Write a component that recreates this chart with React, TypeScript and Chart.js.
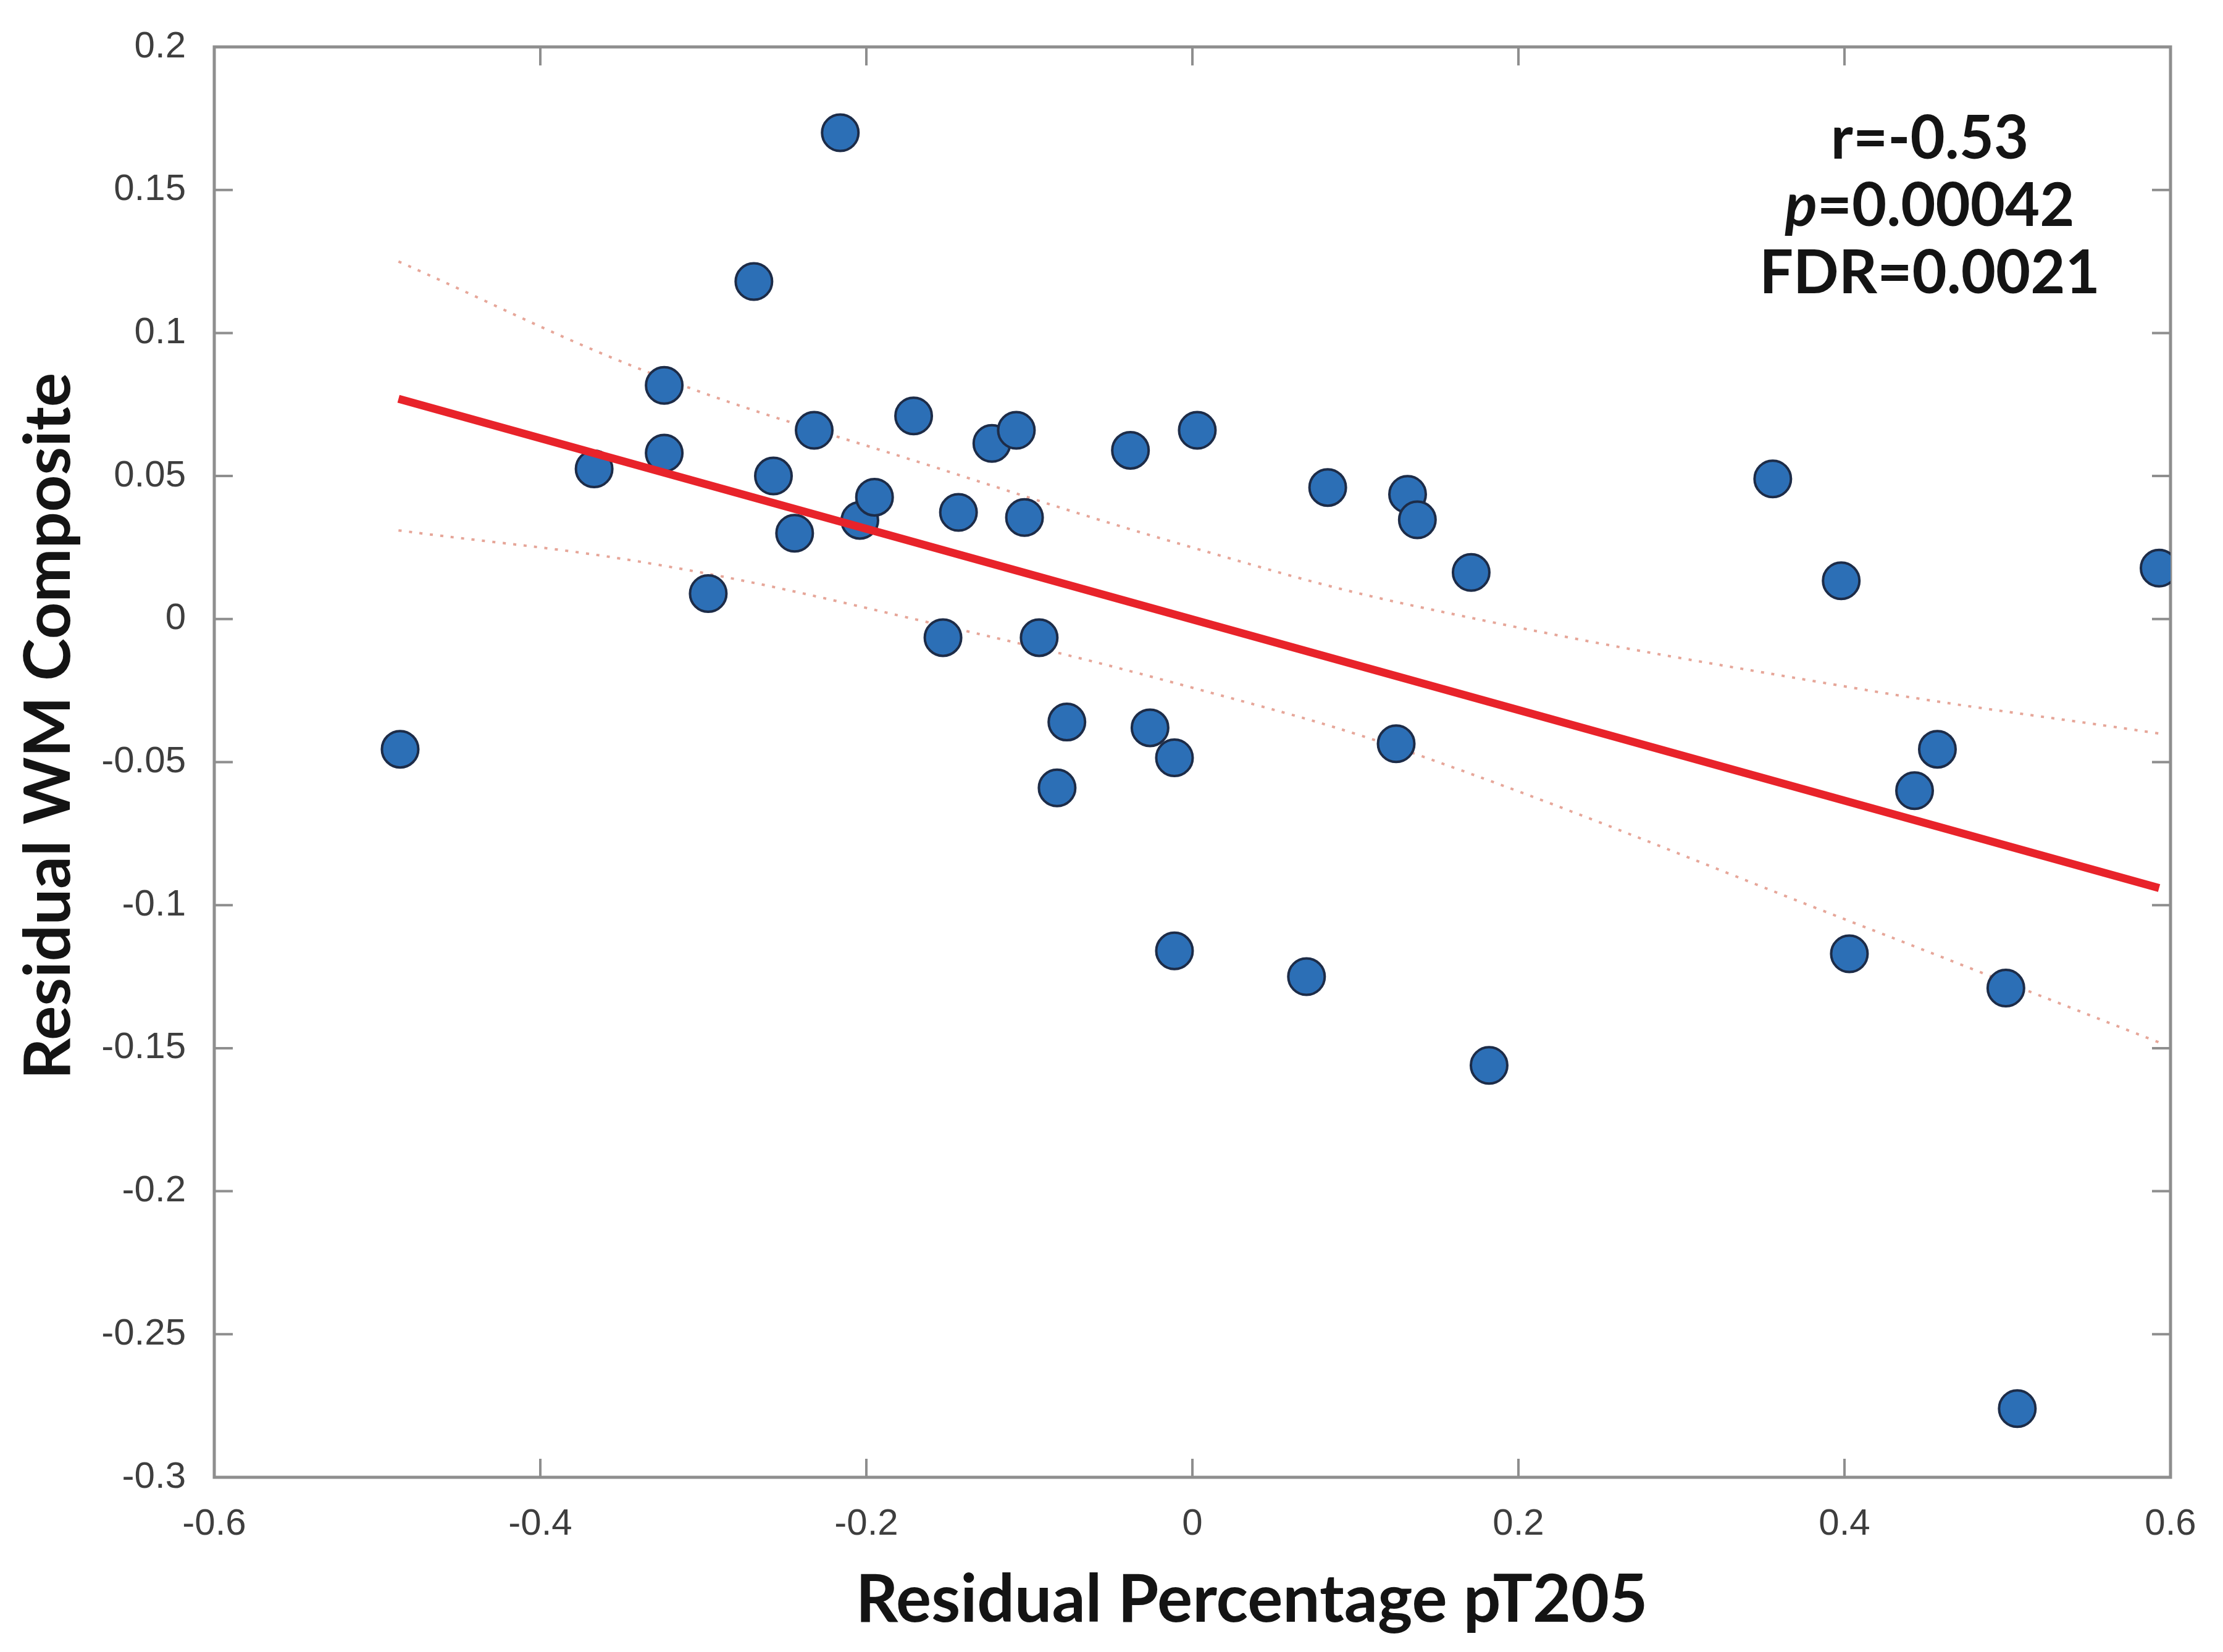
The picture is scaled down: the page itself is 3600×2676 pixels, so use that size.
import React, { useEffect, useRef } from "react";
import { Chart, registerables } from "chart.js";

Chart.register(...registerables);

// ---- Data ----
const pointX = [
  -0.486, -0.367, -0.324, -0.324, -0.297, -0.269, -0.257, -0.232, -0.244, -0.216,
  -0.204, -0.195, -0.171, -0.1435, -0.153, -0.123, -0.108, -0.103, -0.094, -0.077,
  -0.083, -0.038, -0.026, -0.011, -0.011, 0.003, 0.07, 0.083, 0.125, 0.132,
  0.138, 0.171, 0.182, 0.356, 0.398, 0.403, 0.443, 0.457, 0.499, 0.506, 0.593,
];
const pointY = [
  -0.0455, 0.0525, 0.0817, 0.058, 0.0089, 0.118, 0.05, 0.066, 0.03, 0.17,
  0.0345, 0.0426, 0.071, 0.0373, -0.0065, 0.0614, 0.066, 0.0355, -0.0065, -0.036,
  -0.059, 0.059, -0.038, -0.0485, -0.116, 0.066, -0.125, 0.046, -0.0436, 0.0436,
  0.0347, 0.0163, -0.156, 0.049, 0.0134, -0.117, -0.06, -0.0455, -0.129, -0.276, 0.0178,
];

const fitX = [-0.487, 0.593];
const fitY = [0.077, -0.094];

const bandX = [-0.487, -0.328, -0.163, 0.0, 0.141, 0.405, 0.593];
const bandUpper = [0.125, 0.085, 0.054, 0.025, 0.004, -0.024, -0.04];
const bandLower = [0.031, 0.019, -0.001, -0.024, -0.048, -0.106, -0.148];

const xTicks = [-0.6, -0.4, -0.2, 0, 0.2, 0.4, 0.6];
const xTickLabels = ["-0.6", "-0.4", "-0.2", "0", "0.2", "0.4", "0.6"];
const yTicks = [-0.3, -0.25, -0.2, -0.15, -0.1, -0.05, 0, 0.05, 0.1, 0.15, 0.2];
const yTickLabels = ["-0.3", "-0.25", "-0.2", "-0.15", "-0.1", "-0.05", "0", "0.05", "0.1", "0.15", "0.2"];

const xTitle = "Residual Percentage pT205";
const yTitle = "Residual WM Composite";

const statR = "r=-0.53";
const statPItalic = "p";
const statPRest = "=0.00042";
const statFDR = "FDR=0.0021";

// ---- Styles ----
const W = 3600;
const H = 2676;
const FRAME_COLOR = "#8e8e8e";
const TICK_LEN = 30;
const TITLE_FONT = "Lato";
const TITLE_COLOR = "#141414";
const TICK_FONT = "'Liberation Sans', Arial, sans-serif";

const toXY = (xs: number[], ys: number[]) => xs.map((x, i) => ({ x, y: ys[i] }));

const framePlugin = {
  id: "matlabFrame",
  beforeDatasetsDraw(chart: any) {
    const { ctx, chartArea: a, scales } = chart;
    const xs = scales.x;
    const ys = scales.y;
    ctx.save();
    ctx.strokeStyle = FRAME_COLOR;
    ctx.lineWidth = 4;
    ctx.beginPath();
    xTicks.forEach((v) => {
      const px = xs.getPixelForValue(v);
      ctx.moveTo(px, a.bottom);
      ctx.lineTo(px, a.bottom - TICK_LEN);
      ctx.moveTo(px, a.top);
      ctx.lineTo(px, a.top + TICK_LEN);
    });
    yTicks.forEach((v) => {
      const py = ys.getPixelForValue(v);
      ctx.moveTo(a.left, py);
      ctx.lineTo(a.left + TICK_LEN, py);
      ctx.moveTo(a.right, py);
      ctx.lineTo(a.right - TICK_LEN, py);
    });
    ctx.stroke();
    ctx.lineWidth = 5;
    ctx.strokeRect(a.left, a.top, a.right - a.left, a.bottom - a.top);
    ctx.restore();
  },
};

const textPlugin = {
  id: "titlesAndStats",
  afterDraw(chart: any) {
    const { ctx } = chart;
    ctx.save();
    ctx.fillStyle = TITLE_COLOR;
    ctx.textBaseline = "alphabetic";

    // Axis titles
    ctx.textAlign = "center";
    ctx.font = `bold 107px ${TITLE_FONT}`;
    ctx.fillText(xTitle, 2027, 2627);

    ctx.save();
    ctx.translate(113, 1176);
    ctx.rotate(-Math.PI / 2);
    ctx.font = `bold 104px ${TITLE_FONT}`;
    ctx.fillText(yTitle, 0, 0);
    ctx.restore();

    // Statistics
    const cx = 3125;
    const size = 97;
    const bold = `bold ${size}px ${TITLE_FONT}`;
    const boldItalic = `italic bold ${size}px ${TITLE_FONT}`;
    ctx.textAlign = "left";

    ctx.font = bold;
    let w = ctx.measureText(statR).width;
    ctx.fillText(statR, cx - w / 2, 257);

    ctx.font = boldItalic;
    const wp = ctx.measureText(statPItalic).width;
    ctx.font = bold;
    const wr = ctx.measureText(statPRest).width;
    const startP = cx - (wp + wr) / 2;
    ctx.font = boldItalic;
    ctx.fillText(statPItalic, startP, 366);
    ctx.font = bold;
    ctx.fillText(statPRest, startP + wp, 366);

    w = ctx.measureText(statFDR).width;
    ctx.fillText(statFDR, cx - w / 2, 475);
    ctx.restore();
  },
};

export default function App() {
  const canvasRef = useRef<HTMLCanvasElement | null>(null);

  useEffect(() => {
    document.body.style.margin = "0";
    const canvas = canvasRef.current;
    if (!canvas) return;

    const chart = new Chart(canvas, {
      type: "scatter",
      data: {
        datasets: [
          {
            type: "line",
            label: "Fit",
            data: toXY(fitX, fitY),
            borderColor: "#e8232a",
            borderWidth: 13,
            pointRadius: 0,
            fill: false,
            tension: 0,
            order: 0,
          } as any,
          {
            label: "Subjects",
            data: toXY(pointX, pointY),
            backgroundColor: "#2c6fb6",
            borderColor: "#1d2c48",
            borderWidth: 4,
            pointRadius: 29.5,
            pointHoverRadius: 29.5,
            order: 1,
          },
          {
            type: "line",
            label: "Upper CI",
            data: toXY(bandX, bandUpper),
            borderColor: "rgba(226,150,135,0.85)",
            borderWidth: 4,
            borderDash: [5, 12],
            pointRadius: 0,
            fill: false,
            tension: 0.4,
            order: 2,
          } as any,
          {
            type: "line",
            label: "Lower CI",
            data: toXY(bandX, bandLower),
            borderColor: "rgba(226,150,135,0.85)",
            borderWidth: 4,
            borderDash: [5, 12],
            pointRadius: 0,
            fill: false,
            tension: 0.4,
            order: 2,
          } as any,
        ],
      },
      options: {
        responsive: false,
        animation: false,
        devicePixelRatio: 1,
        layout: { padding: { top: 76, right: 85, left: 0, bottom: 0 } },
        plugins: {
          legend: { display: false },
          tooltip: { enabled: false },
        },
        scales: {
          x: {
            type: "linear",
            min: -0.6,
            max: 0.6,
            grid: { display: false },
            border: { display: false },
            afterBuildTicks: (s: any) => {
              s.ticks = xTicks.map((v) => ({ value: v }));
            },
            afterFit: (s: any) => {
              s.height = H - 2393;
            },
            ticks: {
              autoSkip: false,
              maxRotation: 0,
              padding: 32,
              color: "#3e3e3e",
              font: { family: TICK_FONT, size: 60 },
              callback: (_v: any, i: number) => xTickLabels[i],
            },
            title: { display: false, text: xTitle },
          },
          y: {
            type: "linear",
            min: -0.3,
            max: 0.2,
            grid: { display: false },
            border: { display: false },
            afterBuildTicks: (s: any) => {
              s.ticks = yTicks.map((v) => ({ value: v }));
            },
            afterFit: (s: any) => {
              s.width = 347;
            },
            ticks: {
              autoSkip: false,
              padding: 38,
              color: "#3e3e3e",
              font: { family: TICK_FONT, size: 60 },
              callback: (_v: any, i: number) => yTickLabels[i],
            },
            title: { display: false, text: yTitle },
          },
        },
      },
      plugins: [framePlugin, textPlugin],
    } as any);

    return () => chart.destroy();
  }, []);

  return (
    <div style={{ position: "absolute", left: 0, top: 0, width: W, height: H, background: "#ffffff" }}>
      <canvas ref={canvasRef} width={W} height={H} style={{ width: W, height: H, display: "block" }} />
    </div>
  );
}
